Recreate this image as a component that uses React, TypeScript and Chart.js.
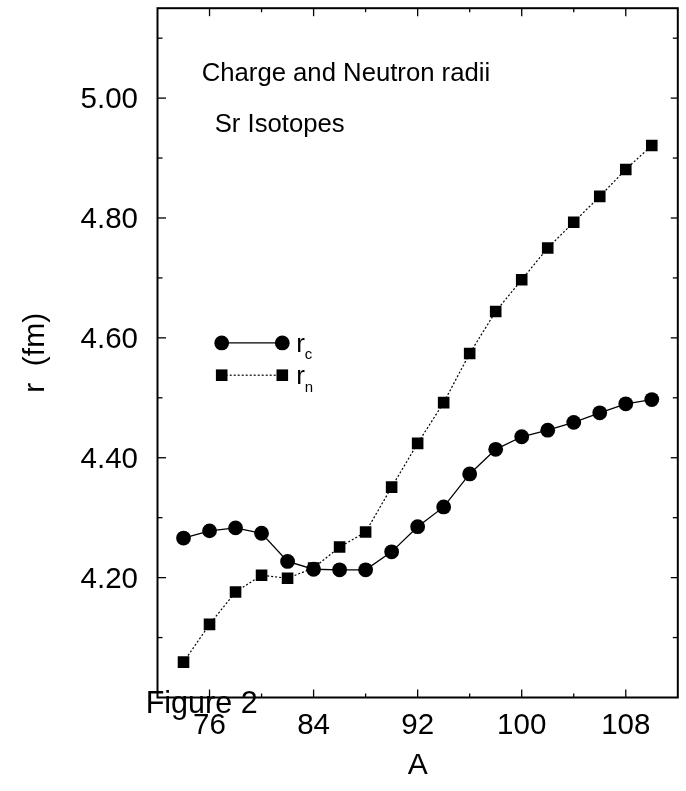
import React, { useEffect, useRef } from 'react';
import { Chart, registerables } from 'chart.js';

Chart.register(...registerables);

// ---- data ----
const massNumbers = [74, 76, 78, 80, 82, 84, 86, 88, 90, 92, 94, 96, 98, 100, 102, 104, 106, 108, 110];
const chargeRadii = [4.266, 4.278, 4.283, 4.274, 4.227, 4.214, 4.213, 4.213, 4.243, 4.285, 4.318, 4.373, 4.414, 4.435, 4.446, 4.459, 4.475, 4.49, 4.497];
const neutronRadii = [4.059, 4.122, 4.176, 4.204, 4.199, 4.216, 4.251, 4.276, 4.351, 4.424, 4.492, 4.574, 4.644, 4.697, 4.75, 4.793, 4.836, 4.881, 4.921];

const xTickValues = [76, 84, 92, 100, 108];
const xMinorTickValues = [80, 88, 96, 104];
const yTickValues = [4.2, 4.4, 4.6, 4.8, 5.0];
const yMinorTickValues = [4.1, 4.3, 4.5, 4.7, 4.9, 5.1];
const xRange = [72, 112];
const yRange = [4.0, 5.15];

const annotationLines = ['Charge and Neutron radii', 'Sr Isotopes'];
const legendBase = ['r', 'r'];
const legendSub = ['c', 'n'];
const figureCaption = 'Figure 2';
const xTitle = 'A';
const yTitle = 'r  (fm)';

const FONT = '"Liberation Sans", Arial, Helvetica, sans-serif';

const decorPlugin = {
  id: 'decor',
  afterDatasetsDraw(chart: any) {
    const { ctx, chartArea: a, scales } = chart;
    const xs = scales.x;
    const ys = scales.y;
    ctx.save();
    ctx.strokeStyle = '#000';
    ctx.fillStyle = '#000';
    const line = (x1: number, y1: number, x2: number, y2: number) => {
      ctx.beginPath();
      ctx.moveTo(x1, y1);
      ctx.lineTo(x2, y2);
      ctx.stroke();
    };
    // inward ticks on all four sides
    ctx.lineWidth = 1.3;
    xTickValues.forEach((v) => {
      const x = xs.getPixelForValue(v);
      line(x, a.bottom, x, a.bottom - 8);
      line(x, a.top, x, a.top + 8);
    });
    xMinorTickValues.forEach((v) => {
      const x = xs.getPixelForValue(v);
      line(x, a.bottom, x, a.bottom - 4);
      line(x, a.top, x, a.top + 4);
    });
    yTickValues.forEach((v) => {
      const y = ys.getPixelForValue(v);
      line(a.left, y, a.left + 8.5, y);
      line(a.right, y, a.right - 7, y);
    });
    yMinorTickValues.forEach((v) => {
      const y = ys.getPixelForValue(v);
      line(a.left, y, a.left + 5, y);
      line(a.right, y, a.right - 5, y);
    });
    // frame
    ctx.lineWidth = 2;
    ctx.strokeRect(a.left, a.top, a.right - a.left, a.bottom - a.top);

    // annotation text
    ctx.textAlign = 'left';
    ctx.textBaseline = 'alphabetic';
    ctx.font = `25.7px ${FONT}`;
    ctx.fillText(annotationLines[0], a.left + 44.2, a.top + 72.7);
    ctx.fillText(annotationLines[1], a.left + 57.2, a.top + 123.7);

    // legend
    const lx1 = a.left + 64.2;
    const lx2 = a.left + 124.8;
    const ly1 = a.top + 334.7;
    const ly2 = a.top + 367;
    ctx.lineWidth = 1.3;
    ctx.setLineDash([]);
    line(lx1, ly1, lx2, ly1);
    [lx1, lx2].forEach((x) => {
      ctx.beginPath();
      ctx.arc(x, ly1, 7.4, 0, Math.PI * 2);
      ctx.fill();
    });
    ctx.lineWidth = 1.2;
    ctx.setLineDash([2, 2]);
    line(lx1, ly2, lx2, ly2);
    ctx.setLineDash([]);
    [lx1, lx2].forEach((x) => {
      ctx.fillRect(x - 5.8, ly2 - 5.8, 11.6, 11.6);
    });
    [ly1, ly2].forEach((y, i) => {
      ctx.font = `26px ${FONT}`;
      ctx.fillText(legendBase[i], lx2 + 14, y + 9);
      ctx.font = `15px ${FONT}`;
      ctx.fillText(legendSub[i], lx2 + 22.5, y + 16.5);
    });

    // caption
    ctx.font = `30.5px ${FONT}`;
    ctx.fillText(figureCaption, a.left - 11.8, a.bottom + 15.8);
    ctx.restore();
  },
};

export default function App() {
  const canvasRef = useRef<HTMLCanvasElement | null>(null);

  useEffect(() => {
    const canvas = canvasRef.current;
    if (!canvas) return;
    const chart = new Chart(canvas, {
      type: 'line',
      data: {
        datasets: [
          {
            label: 'r_c',
            data: massNumbers.map((x, i) => ({ x, y: chargeRadii[i] })),
            borderColor: '#000',
            backgroundColor: '#000',
            borderWidth: 1.3,
            pointStyle: 'circle',
            pointRadius: 7.4,
            pointBorderWidth: 0,
            pointBackgroundColor: '#000',
            tension: 0,
          },
          {
            label: 'r_n',
            data: massNumbers.map((x, i) => ({ x, y: neutronRadii[i] })),
            borderColor: '#000',
            backgroundColor: '#000',
            borderWidth: 1.2,
            borderDash: [2, 2],
            pointStyle: 'rect',
            pointRadius: 8.2,
            pointBorderWidth: 0,
            pointBackgroundColor: '#000',
            tension: 0,
          },
        ],
      },
      options: {
        responsive: false,
        animation: false,
        devicePixelRatio: 1,
        events: [],
        layout: { padding: { left: 0, top: 3, right: 8, bottom: 0 } },
        plugins: { legend: { display: false }, tooltip: { enabled: false }, title: { display: false } },
        scales: {
          x: {
            type: 'linear',
            min: xRange[0],
            max: xRange[1],
            grid: { display: false, drawTicks: false },
            border: { display: false },
            afterBuildTicks: (scale: any) => {
              scale.ticks = xTickValues.map((value) => ({ value }));
            },
            afterFit: (scale: any) => {
              scale.height = 93.5;
              scale.paddingLeft = 0;
              scale.paddingRight = 0;
              scale.paddingTop = 0;
              scale.paddingBottom = 0;
            },
            ticks: {
              autoSkip: false,
              maxRotation: 0,
              padding: 10.7,
              color: '#000',
              font: { family: FONT, size: 29.5 },
              callback: (v: any) => String(v),
            },
            title: {
              display: true,
              text: xTitle,
              color: '#000',
              font: { family: FONT, size: 30 },
              padding: { top: 0, bottom: 7.3 },
            },
          },
          y: {
            type: 'linear',
            min: yRange[0],
            max: yRange[1],
            grid: { display: false, drawTicks: false },
            border: { display: false },
            afterBuildTicks: (scale: any) => {
              scale.ticks = yTickValues.map((value) => ({ value }));
            },
            afterFit: (scale: any) => {
              scale.width = 157.5;
              scale.paddingLeft = 0;
              scale.paddingRight = 0;
              scale.paddingTop = 0;
              scale.paddingBottom = 0;
            },
            ticks: {
              autoSkip: false,
              padding: 19.5,
              labelOffset: 2,
              color: '#000',
              font: { family: FONT, size: 29.5 },
              callback: (v: any) => Number(v).toFixed(2),
            },
            title: {
              display: true,
              text: yTitle,
              color: '#000',
              font: { family: FONT, size: 30 },
              padding: { top: 18, bottom: 0 },
            },
          },
        },
      },
      plugins: [decorPlugin],
    });
    return () => chart.destroy();
  }, []);

  return (
    <div style={{ position: 'fixed', left: 0, top: 0, width: 686, height: 791, background: '#fff' }}>
      <canvas ref={canvasRef} width={686} height={791} style={{ width: 686, height: 791, display: 'block' }} />
    </div>
  );
}
